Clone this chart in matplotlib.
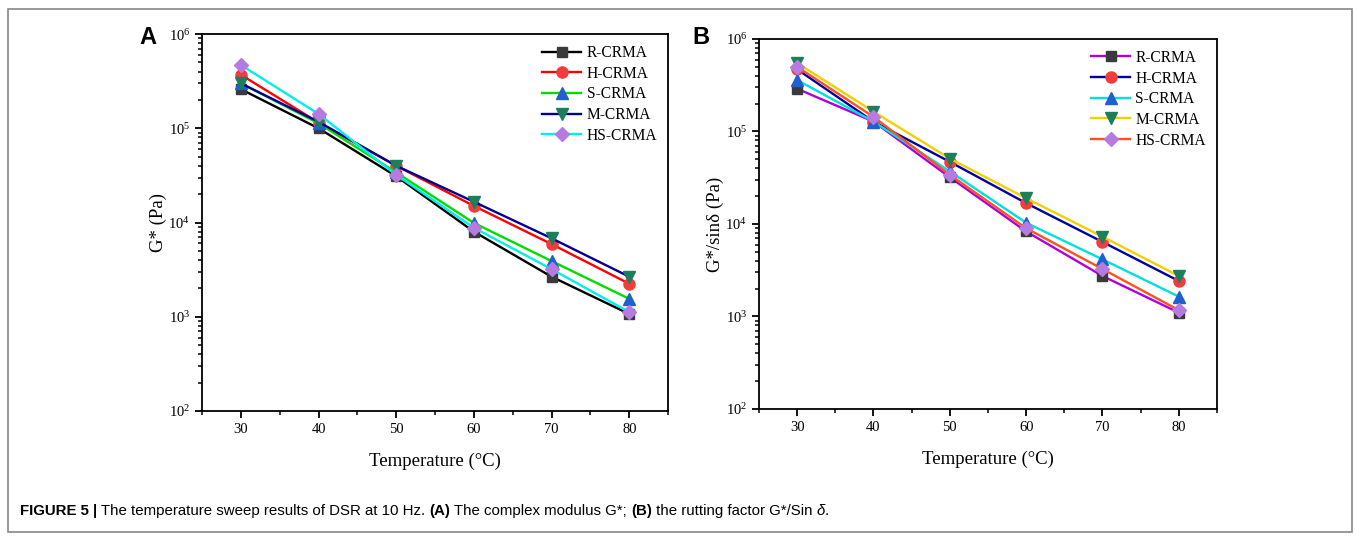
import numpy as np
import matplotlib
matplotlib.use('Agg')
import matplotlib.pyplot as plt
from matplotlib.patches import Rectangle
from matplotlib.ticker import LogLocator, MultipleLocator, NullFormatter
from matplotlib.transforms import IdentityTransform

plt.rcParams['font.family'] = 'Liberation Serif'
plt.rcParams['mathtext.fontset'] = 'custom'
plt.rcParams['mathtext.rm'] = 'Liberation Serif'
plt.rcParams['mathtext.it'] = 'Liberation Serif:italic'

# temperature sweep, 10 Hz
temps = [30, 40, 50, 60, 70, 80]
samples = ["R-CRMA", "H-CRMA", "S-CRMA", "M-CRMA", "HS-CRMA"]

# (A) complex modulus G* (Pa)
g_R  = [2.6e5, 1.0e5, 3.1e4, 8.0e3, 2.66e3, 1.07e3]
g_H  = [3.7e5, 1.15e5, 4.0e4, 1.5e4, 5.9e3, 2.24e3]
g_S  = [3.0e5, 1.13e5, 3.4e4, 9.9e3, 3.9e3, 1.55e3]
g_M  = [3.0e5, 1.17e5, 4.0e4, 1.66e4, 6.8e3, 2.66e3]
g_HS = [4.7e5, 1.42e5, 3.2e4, 8.8e3, 3.2e3, 1.12e3]

# (B) rutting factor G*/sin(delta) (Pa)
r_R  = [2.9e5, 1.28e5, 3.2e4, 8.3e3, 2.74e3, 1.10e3]
r_H  = [4.7e5, 1.28e5, 4.7e4, 1.68e4, 6.4e3, 2.42e3]
r_S  = [3.6e5, 1.28e5, 3.7e4, 1.03e4, 4.15e3, 1.64e3]
r_M  = [5.5e5, 1.64e5, 5.1e4, 1.9e4, 7.3e3, 2.74e3]
r_HS = [5.0e5, 1.44e5, 3.4e4, 9.0e3, 3.26e3, 1.17e3]

markers = ["s", "o", "^", "v", "D"]
msizes = [7, 8, 8, 8, 7]
mcolors = ["#3a3a3a", "#f03c3c", "#1f5fd0", "#1a7f5a", "#b57be0"]
lines_a = ["#000000", "#ff0000", "#00dd00", "#000090", "#00eeee"]
lines_b = ["#b000d8", "#0000a0", "#00e0e0", "#f0d000", "#ff5020"]

fig = plt.figure(figsize=(13.56, 5.4), dpi=100)
ax_a = fig.add_axes([0.149, 0.2389, 0.3437, 0.698])
ax_b = fig.add_axes([0.5597, 0.2426, 0.3378, 0.6852])


def draw(ax, series, lcols, ylabel):
    for i, ys in enumerate(series):
        ax.plot(temps, ys, color=lcols[i], lw=1.7, marker=markers[i],
                ms=msizes[i], mfc=mcolors[i], mec=mcolors[i], label=samples[i])
    ax.set_yscale("log")
    ax.set_xlim(25, 85)
    ax.set_ylim(1e2, 1e6)
    ax.xaxis.set_major_locator(MultipleLocator(10))
    ax.xaxis.set_minor_locator(MultipleLocator(5))
    ax.yaxis.set_major_locator(LogLocator(base=10, numticks=10))
    ax.yaxis.set_minor_locator(LogLocator(base=10, subs=np.arange(2, 10), numticks=20))
    ax.yaxis.set_minor_formatter(NullFormatter())
    ax.tick_params(which="major", direction="out", length=5, width=1.3,
                   labelsize=10.5, top=False, right=False)
    ax.tick_params(which="minor", direction="out", length=3, width=1.1,
                   top=False, right=False)
    for sp in ax.spines.values():
        sp.set_linewidth(1.3)
    ax.set_xlabel("Temperature (°C)", fontsize=13.5, labelpad=12)
    ax.set_ylabel(ylabel, fontsize=13.5, labelpad=1)
    ax.legend(loc="upper right", frameon=False, fontsize=11.2,
              handlelength=2.5, handletextpad=0.35, labelspacing=0.3,
              borderaxespad=0.3)


draw(ax_a, [g_R, g_H, g_S, g_M, g_HS], lines_a, "G* (Pa)")
draw(ax_b, [r_R, r_H, r_S, r_M, r_HS], lines_b, "G*/sinδ (Pa)")

fig.text(148 / 1356, 1 - 37 / 540, "A", fontsize=17, fontweight="bold",
         family="Liberation Sans", ha="center", va="center")
fig.text(701 / 1356, 1 - 37 / 540, "B", fontsize=17, fontweight="bold",
         family="Liberation Sans", ha="center", va="center")

# outer frame
fig.patches.append(Rectangle((8, 8), 1344, 523, transform=IdentityTransform(),
                             fill=False, edgecolor="#888888", lw=1.2))

# caption, drawn piece by piece
parts = [
    ("FIGURE 5 |", dict(fontweight="bold")),
    (" The temperature sweep results of DSR at 10 Hz. ", {}),
    ("(A)", dict(fontweight="bold")),
    (" The complex modulus G*; ", {}),
    ("(B)", dict(fontweight="bold")),
    (" the rutting factor G*/Sin ", {}),
    ("δ", dict(style="italic")),
    (".", {}),
]
renderer = fig.canvas.get_renderer()
x = 20
y = 540 - 511
for s, kw in parts:
    t = fig.text(x, y, s, transform=IdentityTransform(), family="Liberation Sans",
                 fontsize=10.8, va="center", ha="left", **kw)
    x += t.get_window_extent(renderer).width

fig.savefig("out.png", dpi=100)
